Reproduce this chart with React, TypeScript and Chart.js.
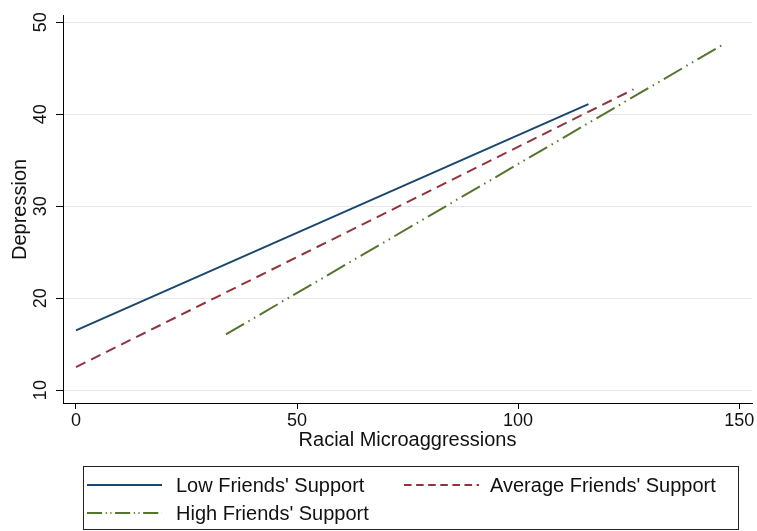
import React, { useEffect, useRef } from "react";
import { Chart, registerables } from "chart.js";

Chart.register(...registerables);

// Predicted depression by racial microaggressions, at three levels of friends' support
const seriesLabels = ["Low Friends' Support", "Average Friends' Support", "High Friends' Support"];
const lowX = [0, 115.9];
const lowY = [16.5, 41.1];
const avgX = [0, 126.1];
const avgY = [12.5, 42.7];
const highX = [33.9, 146.8];
const highY = [16.05, 47.7];

const xTicks = [0, 50, 100, 150];
const yTicks = [10, 20, 30, 40, 50];
const xTitle = "Racial Microaggressions";
const yTitle = "Depression";

const colors = ["#1a476f", "#90353b", "#55752f"];
const dashes: number[][] = [[], [10.5, 6.3], [21, 5, 1.5, 5, 1.5, 5]];

const FONT = "'Liberation Sans', Arial, Helvetica, sans-serif";

const toPoints = (xs: number[], ys: number[]) => xs.map((x, i) => ({ x, y: ys[i] }));

// Boxed two-column legend drawn under the x axis
const boxedLegend = {
  id: "boxedLegend",
  afterDraw(chart: Chart) {
    const ctx = chart.ctx;
    const box = { left: 83, top: 466, right: 738, bottom: 529 };
    const slots = [
      { x: 87, y: 485 },
      { x: 404, y: 485 },
      { x: 87, y: 513 },
    ];
    const keyLen = 75;
    ctx.save();
    ctx.strokeStyle = "#222";
    ctx.lineWidth = 1;
    ctx.strokeRect(box.left + 0.5, box.top + 0.5, box.right - box.left, box.bottom - box.top);
    chart.data.datasets.forEach((ds: any, i: number) => {
      const s = slots[i];
      ctx.beginPath();
      ctx.setLineDash((ds.borderDash || []).map((d: number) => d * 0.72));
      ctx.strokeStyle = ds.borderColor;
      ctx.lineWidth = 2;
      ctx.moveTo(s.x, s.y);
      ctx.lineTo(s.x + keyLen, s.y);
      ctx.stroke();
      ctx.setLineDash([]);
      ctx.fillStyle = "#111";
      ctx.font = `20px ${FONT}`;
      ctx.textAlign = "left";
      ctx.textBaseline = "middle";
      ctx.fillText(ds.label, s.x + keyLen + (i === 1 ? 11 : 14), s.y + 1);
    });
    ctx.restore();
  },
};

export default function App() {
  const canvasRef = useRef<HTMLCanvasElement | null>(null);

  useEffect(() => {
    document.body.style.margin = "0";
    const canvas = canvasRef.current;
    if (!canvas) return;
    const chart = new Chart(canvas, {
      type: "line",
      data: {
        datasets: [
          { label: seriesLabels[0], data: toPoints(lowX, lowY) },
          { label: seriesLabels[1], data: toPoints(avgX, avgY) },
          { label: seriesLabels[2], data: toPoints(highX, highY) },
        ].map((d, i) => ({
          ...d,
          borderColor: colors[i],
          backgroundColor: colors[i],
          borderDash: dashes[i],
          borderWidth: 2,
          pointRadius: 0,
          tension: 0,
          fill: false,
        })),
      },
      plugins: [boxedLegend],
      options: {
        animation: false,
        responsive: false,
        devicePixelRatio: 1,
        layout: { padding: { top: 12, right: 5, left: 0, bottom: 76 } },
        plugins: {
          legend: { display: false },
          tooltip: { enabled: false },
        },
        scales: {
          x: {
            type: "linear",
            min: -2.94,
            max: 152.9,
            afterBuildTicks: (scale: any) => {
              scale.ticks = xTicks.map((v) => ({ value: v }));
            },
            afterFit: (scale: any) => {
              scale.height = 52;
            },
            border: { display: true, color: "#000", width: 1 },
            grid: {
              drawOnChartArea: false,
              drawTicks: true,
              tickLength: 6,
              tickColor: "#000",
            },
            ticks: {
              color: "#111",
              font: { family: FONT, size: 18 },
              padding: 1,
              maxRotation: 0,
              autoSkip: false,
            },
            title: {
              display: true,
              text: xTitle,
              color: "#111",
              font: { family: FONT, size: 20 },
              padding: { top: 0, bottom: 3 },
            },
          },
          y: {
            type: "linear",
            min: 8.6,
            max: 50.7,
            afterBuildTicks: (scale: any) => {
              scale.ticks = yTicks.map((v) => ({ value: v }));
            },
            afterFit: (scale: any) => {
              scale.width = 63;
            },
            border: { display: true, color: "#000", width: 1 },
            grid: {
              drawOnChartArea: true,
              drawTicks: true,
              tickLength: 7,
              color: "#e8e8e8",
              tickColor: "#000",
              lineWidth: 1,
            },
            ticks: {
              color: "#111",
              font: { family: FONT, size: 18 },
              padding: 5,
              minRotation: 90,
              maxRotation: 90,
              crossAlign: "center",
              autoSkip: false,
            },
            title: {
              display: true,
              text: yTitle,
              color: "#111",
              font: { family: FONT, size: 20 },
              padding: { top: 8, bottom: 0 },
            },
          },
        },
      },
    } as any);
    return () => chart.destroy();
  }, []);

  return (
    <canvas
      ref={canvasRef}
      width={757}
      height={531}
      style={{ display: "block", width: 757, height: 531 }}
    />
  );
}
